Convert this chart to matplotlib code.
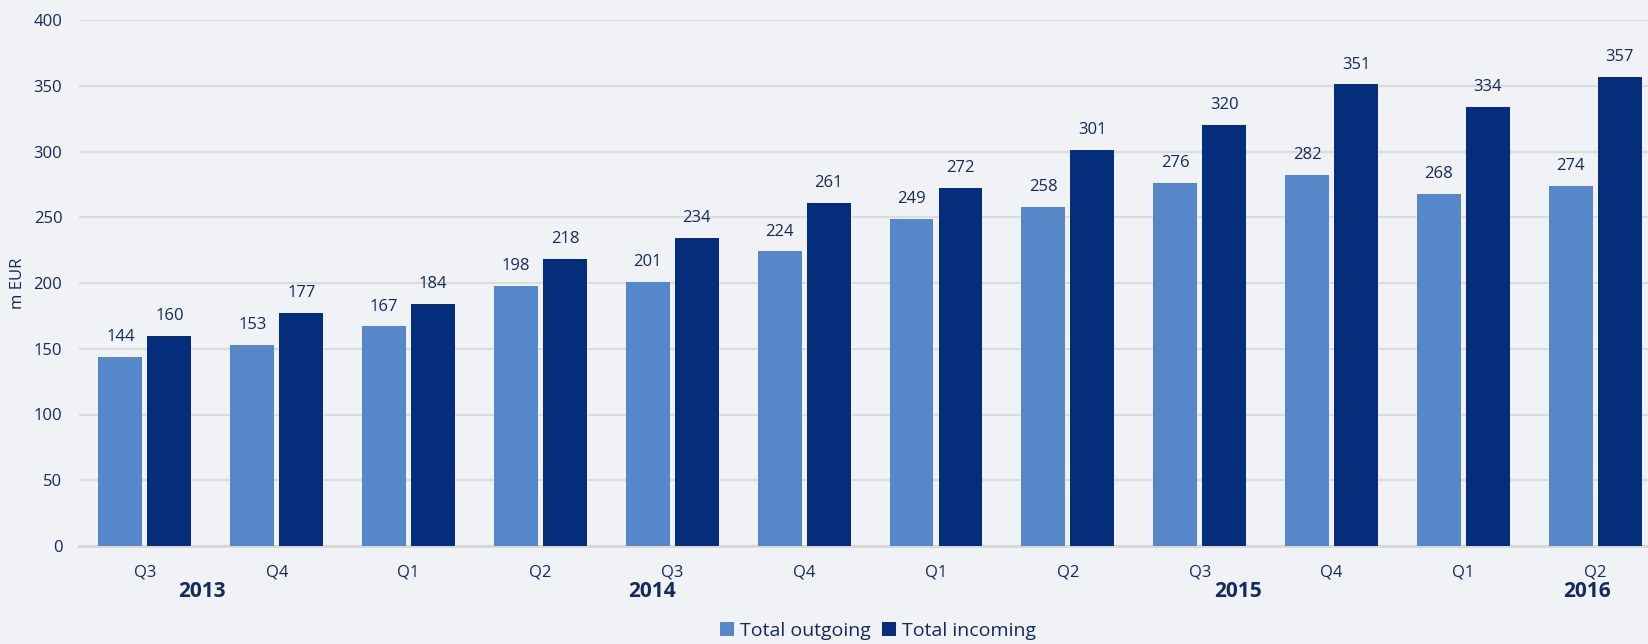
import matplotlib
matplotlib.use("Agg")
import matplotlib.pyplot as plt
import numpy as np

quarters = ["Q3", "Q4", "Q1", "Q2", "Q3", "Q4", "Q1", "Q2", "Q3", "Q4", "Q1", "Q2"]
outgoing = [144, 153, 167, 198, 201, 224, 249, 258, 276, 282, 268, 274]
incoming = [160, 177, 184, 218, 234, 261, 272, 301, 320, 351, 334, 357]
years = ["2013", "2014", "2015", "2016"]
year_pos = [0.43, 3.85, 8.29, 10.94]
yticks = [0, 50, 100, 150, 200, 250, 300, 350, 400]

c_out = "#5587c9"
c_in = "#042e7c"
txt = "#14295c"
bg = "#f1f2f6"

plt.rcParams['font.family'] = ['Open Sans', 'DejaVu Sans']

W, H = 1648, 644
fig = plt.figure(figsize=(W / 100, H / 100), dpi=100)
fig.patch.set_facecolor(bg)
ax = fig.add_axes([79 / W, (H - 546) / H, (W - 79) / W, (546 - 20) / H])
ax.set_facecolor("none")

x = np.arange(len(quarters))
w = 0.333
off = 0.186
b1 = ax.bar(x - off, outgoing, w, color=c_out, label="Total outgoing", zorder=3)
b2 = ax.bar(x + off, incoming, w, color=c_in, label="Total incoming", zorder=3)

for xi, v in zip(x, outgoing):
    ax.text(xi - off, v + 9, str(v), ha="center", va="bottom", fontsize=12, color=txt)
for xi, v in zip(x, incoming):
    ax.text(xi + off, v + 9, str(v), ha="center", va="bottom", fontsize=12, color=txt)

ax.set_xlim(-0.5, 11.4)
ax.set_ylim(0, 400)
ax.set_yticks(yticks)
ax.set_yticklabels([str(t) for t in yticks], fontsize=12, color=txt)
ax.set_xticks(x)
ax.set_xticklabels(quarters, fontsize=12, color=txt)
ax.tick_params(axis="both", length=0)
ax.tick_params(axis="x", pad=13)
ax.tick_params(axis="y", pad=12)
ax.grid(axis="y", color="#dcdcdc", linewidth=1.6, zorder=0)
for s in ["top", "right", "left"]:
    ax.spines[s].set_visible(False)
ax.spines["bottom"].set_color("#d8d8d8")
ax.spines["bottom"].set_linewidth(2.2)

for yp, yl in zip(year_pos, years):
    ax.text(yp, -0.087, yl, transform=ax.get_xaxis_transform(), ha="center", va="center",
            fontsize=15, fontweight="bold", color=txt)

ax.set_ylabel("m EUR", fontsize=12, color=txt)
ax.yaxis.set_label_coords(-0.034, 0.5)

fig.legend(handles=[b1, b2], loc="center", bbox_to_anchor=(878 / W, 1 - 631 / H),
           ncol=2, frameon=False, fontsize=14, handlelength=0.7, handleheight=0.7,
           handletextpad=0.3, columnspacing=0.6, labelcolor=txt)

fig.savefig("out.png", dpi=100, facecolor=bg)
